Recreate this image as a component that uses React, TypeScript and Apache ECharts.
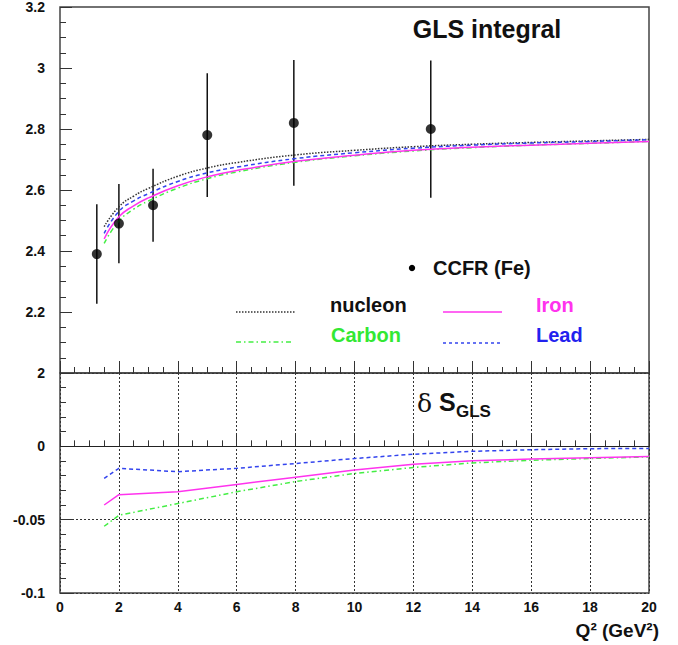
import React, { useEffect, useRef } from "react";
import * as echarts from "echarts";

// ---- data ----
const q2Curve = [1.5, 2, 2.5, 3, 4, 5, 6, 8, 10, 12, 14, 16, 18, 20];
const nucleonGLS = [2.48, 2.545, 2.58, 2.605, 2.645, 2.672, 2.69, 2.715, 2.73, 2.742, 2.75, 2.756, 2.761, 2.766];
const ironGLS = [2.44, 2.512, 2.548, 2.574, 2.614, 2.643, 2.664, 2.694, 2.714, 2.73, 2.74, 2.747, 2.753, 2.759];
const leadGLS = [2.458, 2.53, 2.564, 2.588, 2.628, 2.656, 2.675, 2.703, 2.722, 2.737, 2.747, 2.754, 2.759, 2.765];
const carbonGLS = [2.425, 2.498, 2.537, 2.564, 2.606, 2.637, 2.659, 2.691, 2.712, 2.728, 2.739, 2.747, 2.753, 2.759];

const q2Delta = [1.5, 2, 4, 6, 8, 10, 12, 14, 16, 18, 20];
const leadDelta = [-0.0218, -0.015, -0.0173, -0.015, -0.0117, -0.0083, -0.0054, -0.0034, -0.0023, -0.0016, -0.0014];
const ironDelta = [-0.04, -0.033, -0.031, -0.026, -0.021, -0.0162, -0.0122, -0.0099, -0.0086, -0.0077, -0.007];
const carbonDelta = [-0.0545, -0.047, -0.039, -0.031, -0.024, -0.0185, -0.0144, -0.0113, -0.0095, -0.0083, -0.0072];

const ccfrQ2 = [1.25, 2.0, 3.16, 5.0, 7.94, 12.59];
const ccfrGLS = [2.39, 2.49, 2.55, 2.78, 2.82, 2.8];
const ccfrErr = [0.163, 0.13, 0.12, 0.203, 0.206, 0.225];

const xTicks = { min: 0, max: 20, interval: 2 };
const yTopTicks = { min: 2, max: 3.2, interval: 0.2 };
const yBotTicks = { min: -0.1, max: 0.05, interval: 0.05 };

const zip = (xs: number[], ys: number[]) => xs.map((x, i) => [x, ys[i]]);

const C_NUC = "#333333";
const C_IRON = "#ff33ee";
const C_LEAD = "#3344ee";
const C_CARBON = "#44ee44";
const FONT = "Liberation Sans, Arial, Helvetica, sans-serif";

export default function App() {
  const ref = useRef<HTMLDivElement>(null);

  useEffect(() => {
    if (!ref.current) return;
    const chart = echarts.init(ref.current, undefined, { renderer: "svg" });

    const fmt = (v: number) => String(parseFloat(v.toFixed(3)));
    const baseX = (gridIndex: number, labels: boolean) => ({
      type: "value",
      gridIndex,
      ...xTicks,
      axisLine: { show: false },
      axisTick: { show: true, inside: true, length: 12, lineStyle: { color: "#333", width: 1 } },
      minorTick: { show: true, splitNumber: 4, length: 6, lineStyle: { color: "#333", width: 1 } },
      axisLabel: {
        show: labels,
        margin: 7,
        color: "#111",
        fontWeight: "bold",
        fontSize: 14,
        fontFamily: FONT,
        showMinLabel: true,
        showMaxLabel: true,
        formatter: fmt,
      },
      splitLine: labels
        ? { show: true, lineStyle: { color: "#333", type: [2, 2], width: 1 } }
        : { show: false },
    });

    const option: any = {
      animation: false,
      backgroundColor: "#fff",
      grid: [
        { left: 60, top: 6, width: 589, height: 367, show: true, borderColor: "#444", borderWidth: 1.5, backgroundColor: "transparent" },
        { left: 60, top: 373, width: 589, height: 220, show: true, borderColor: "#444", borderWidth: 1.5, backgroundColor: "transparent" },
      ],
      xAxis: [baseX(0, false), baseX(1, true)],
      yAxis: [
        {
          type: "value",
          gridIndex: 0,
          ...yTopTicks,
          axisLine: { show: false },
          axisTick: { show: true, inside: true, length: 12, lineStyle: { color: "#333" } },
          minorTick: { show: true, splitNumber: 4, length: 6, lineStyle: { color: "#333" } },
          splitLine: { show: false },
          axisLabel: {
            margin: 15,
            color: "#111",
            fontWeight: "bold",
            fontSize: 14,
            fontFamily: FONT,
            showMinLabel: true,
            showMaxLabel: true,
            formatter: fmt,
          },
        },
        {
          type: "value",
          gridIndex: 1,
          ...yBotTicks,
          axisLine: { show: false },
          axisTick: { show: true, inside: true, length: 12, lineStyle: { color: "#333" } },
          minorTick: { show: true, splitNumber: 5, length: 6, lineStyle: { color: "#333" } },
          splitLine: { show: true, lineStyle: { color: "#333", type: [2, 2], width: 1 } },
          axisLabel: {
            margin: 15,
            color: "#111",
            fontWeight: "bold",
            fontSize: 14,
            fontFamily: FONT,
            showMinLabel: true,
            showMaxLabel: true,
            formatter: (v: number) => (v > 0.01 ? "" : fmt(v)),
          },
        },
      ],
      series: [
        {
          name: "nucleon",
          type: "line",
          xAxisIndex: 0,
          yAxisIndex: 0,
          data: zip(q2Curve, nucleonGLS),
          smooth: true,
          showSymbol: false,
          lineStyle: { color: C_NUC, width: 1.5, type: [1.5, 1.5] },
        },
        {
          name: "Carbon",
          type: "line",
          xAxisIndex: 0,
          yAxisIndex: 0,
          data: zip(q2Curve, carbonGLS),
          smooth: true,
          showSymbol: false,
          lineStyle: { color: C_CARBON, width: 1.5, type: [5, 3, 1.5, 3] },
        },
        {
          name: "Lead",
          type: "line",
          xAxisIndex: 0,
          yAxisIndex: 0,
          data: zip(q2Curve, leadGLS),
          smooth: true,
          showSymbol: false,
          lineStyle: { color: C_LEAD, width: 1.5, type: [4, 3] },
        },
        {
          name: "Iron",
          type: "line",
          xAxisIndex: 0,
          yAxisIndex: 0,
          data: zip(q2Curve, ironGLS),
          smooth: true,
          showSymbol: false,
          lineStyle: { color: C_IRON, width: 1.5 },
        },
        {
          name: "CCFR err",
          type: "custom",
          xAxisIndex: 0,
          yAxisIndex: 0,
          data: ccfrQ2.map((x, i) => [x, ccfrGLS[i], ccfrErr[i]]),
          encode: { x: 0, y: 1 },
          renderItem: (_p: any, api: any) => {
            const x = api.value(0);
            const y = api.value(1);
            const e = api.value(2);
            const a = api.coord([x, y + e]);
            const b = api.coord([x, y - e]);
            return {
              type: "line",
              shape: { x1: a[0], y1: a[1], x2: b[0], y2: b[1] },
              style: { stroke: "#111", lineWidth: 1.5 },
            };
          },
          z: 3,
        },
        {
          name: "CCFR (Fe)",
          type: "scatter",
          xAxisIndex: 0,
          yAxisIndex: 0,
          data: zip(ccfrQ2, ccfrGLS),
          symbol: "circle",
          symbolSize: 10,
          itemStyle: { color: "#000" },
          z: 4,
        },
        {
          name: "Lead delta",
          type: "line",
          xAxisIndex: 1,
          yAxisIndex: 1,
          data: zip(q2Delta, leadDelta),
          showSymbol: false,
          lineStyle: { color: C_LEAD, width: 1.5, type: [4, 3] },
          markLine: {
            silent: true,
            symbol: "none",
            label: { show: false },
            lineStyle: { color: "#222", type: "solid", width: 1.2 },
            data: [{ yAxis: 0 }],
          },
        },
        {
          name: "Carbon delta",
          type: "line",
          xAxisIndex: 1,
          yAxisIndex: 1,
          data: zip(q2Delta, carbonDelta),
          showSymbol: false,
          lineStyle: { color: C_CARBON, width: 1.5, type: [5, 3, 1.5, 3] },
        },
        {
          name: "Iron delta",
          type: "line",
          xAxisIndex: 1,
          yAxisIndex: 1,
          data: zip(q2Delta, ironDelta),
          showSymbol: false,
          lineStyle: { color: C_IRON, width: 1.5 },
        },
      ],
      graphic: [
        {
          type: "text",
          x: 487,
          y: 29,
          style: { text: "GLS integral", font: `bold 25px ${FONT}`, fill: "#111", align: "center", verticalAlign: "middle" },
        },
        { type: "circle", shape: { cx: 412, cy: 268, r: 3.2 }, style: { fill: "#000" } },
        {
          type: "text",
          x: 433,
          y: 268,
          style: { text: "CCFR (Fe)", font: `bold 20px ${FONT}`, fill: "#111", verticalAlign: "middle" },
        },
        { type: "line", shape: { x1: 236, y1: 312, x2: 296, y2: 312 }, style: { stroke: C_NUC, lineWidth: 1.5, lineDash: [1.5, 1.5] } },
        { type: "text", x: 330, y: 305, style: { text: "nucleon", font: `bold 20px ${FONT}`, fill: "#111", verticalAlign: "middle" } },
        { type: "line", shape: { x1: 443, y1: 312, x2: 502, y2: 312 }, style: { stroke: C_IRON, lineWidth: 1.5 } },
        { type: "text", x: 536, y: 305, style: { text: "Iron", font: `bold 20px ${FONT}`, fill: C_IRON, verticalAlign: "middle" } },
        { type: "line", shape: { x1: 236, y1: 342, x2: 294, y2: 342 }, style: { stroke: C_CARBON, lineWidth: 1.5, lineDash: [5, 3, 1.5, 3] } },
        { type: "text", x: 331, y: 335, style: { text: "Carbon", font: `bold 20px ${FONT}`, fill: "#33e833", verticalAlign: "middle" } },
        { type: "line", shape: { x1: 443, y1: 343, x2: 502, y2: 343 }, style: { stroke: C_LEAD, lineWidth: 1.5, lineDash: [3, 3] } },
        { type: "text", x: 536, y: 335, style: { text: "Lead", font: `bold 20px ${FONT}`, fill: "#2222ee", verticalAlign: "middle" } },
        { type: "text", x: 417, y: 403, style: { text: "δ", font: `25px "DejaVu Serif", serif`, fill: "#111", verticalAlign: "middle" } },
        { type: "text", x: 439, y: 402, style: { text: "S", font: `bold 25px ${FONT}`, fill: "#111", verticalAlign: "middle" } },
        { type: "text", x: 456, y: 411, style: { text: "GLS", font: `bold 17px ${FONT}`, fill: "#111", verticalAlign: "middle" } },
        { type: "text", x: 659, y: 630, style: { text: "Q² (GeV²)", font: `bold 19px ${FONT}`, fill: "#111", align: "right", verticalAlign: "middle" } },
      ],
    };

    chart.setOption(option);
    return () => chart.dispose();
  }, []);

  return <div ref={ref} style={{ position: "absolute", left: 0, top: 0, width: 678, height: 645 }} />;
}
